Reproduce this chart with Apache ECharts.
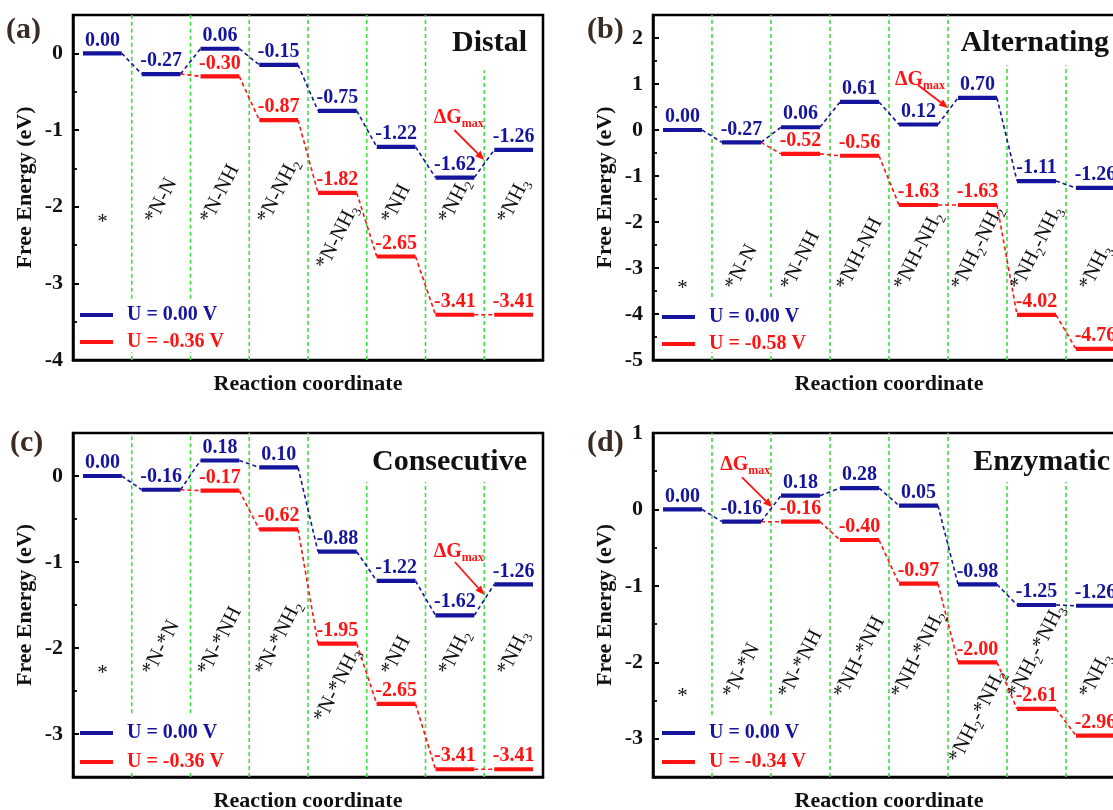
<!DOCTYPE html>
<html><head><meta charset="utf-8">
<script src="https://cdn.jsdelivr.net/npm/echarts@6/dist/echarts.min.js"></script>
<style>html,body{margin:0;padding:0;background:#fff}#c{width:1113px;height:810px}</style>
</head><body><div id="c"></div>
<script>
// ---------------- data ----------------
const panelLetters = ['(a)', '(b)', '(c)', '(d)'];
const panelTitles = ['Distal', 'Alternating', 'Consecutive', 'Enzymatic'];
const catA = ['*', '*N-N', '*N-NH', '*N-NH_2', '*N-NH_3', '*NH', '*NH_2', '*NH_3'];
const catB = ['*', '*N-N', '*N-NH', '*NH-NH', '*NH-NH_2', '*NH_2-NH_2', '*NH_2-NH_3', '*NH_3'];
const catC = ['*', '*N-*N', '*N-*NH', '*N-*NH_2', '*N-*NH_3', '*NH', '*NH_2', '*NH_3'];
const catD = ['*', '*N-*N', '*N-*NH', '*NH-*NH', '*NH-*NH_2', '*NH_2-*NH_2', '*NH_2-*NH_3', '*NH_3'];
const blueA = [0.00, -0.27, 0.06, -0.15, -0.75, -1.22, -1.62, -1.26];
const redA  = [null, null, -0.30, -0.87, -1.82, -2.65, -3.41, -3.41];
const blueB = [0.00, -0.27, 0.06, 0.61, 0.12, 0.70, -1.11, -1.26];
const redB  = [null, null, -0.52, -0.56, -1.63, -1.63, -4.02, -4.76];
const blueC = [0.00, -0.16, 0.18, 0.10, -0.88, -1.22, -1.62, -1.26];
const redC  = [null, null, -0.17, -0.62, -1.95, -2.65, -3.41, -3.41];
const blueD = [0.00, -0.16, 0.18, 0.28, 0.05, -0.98, -1.25, -1.26];
const redD  = [null, null, -0.16, -0.40, -0.97, -2.00, -2.61, -2.96];
const legendBlue = 'U = 0.00 V';
const legendRed = ['U = -0.36 V', 'U = -0.58 V', 'U = -0.36 V', 'U = -0.34 V'];
const yMin = [-4, -5, -3.5, -3.5];
const yMax = [0.5, 2.5, 0.5, 1];
const yAxisName = 'Free Energy (eV)';
const xAxisName = 'Reaction coordinate';
const dGText = 'ΔG';
const dGSub = 'max';

// ---------------- layout / style ----------------
const FONT = '"Liberation Serif", "Times New Roman", serif';
const BLUE = '#15159b', RED = '#ff1212', GREEN = '#3ede3e', DARK = '#3a2c22';
const L0 = 0.17, L1 = 0.83, ANG = 63;
const grids = [
  {left: 73, top: 15, width: 470, height: 345},
  {left: 653, top: 15, width: 472, height: 345},
  {left: 73, top: 433, width: 470, height: 344},
  {left: 653, top: 433, width: 472, height: 344}
];
const labelBase = [-2.2, -3.45, -2.3, -2.45];
const labelOverride = [{4: -2.8}, {}, {4: -2.85}, {5: -3.3}];
const dividerSpans = [
  [[1, -3.2, 0.5], [1, -4, -3.9], [2, -3.2, 0.5], [2, -4, -3.9], [3, -4, 0.5], [4, -4, 0.5], [5, -4, 0.5], [6, -4, 0.5], [7, -4, -0.22]],
  [[1, -3.63, 2.5], [1, -5, -4.83], [2, -3.63, 2.5], [2, -5, -4.83], [3, -5, 2.5], [4, -5, 2.5], [5, -5, 2.5], [6, -5, 1.41], [7, -5, 1.41]],
  [[1, -2.76, 0.5], [1, -3.5, -3.42], [2, -2.76, 0.5], [2, -3.5, -3.42], [3, -3.5, 0.5], [4, -3.5, 0.5], [5, -3.5, -0.07], [6, -3.5, -0.07], [7, -3.5, -0.07]],
  [[1, -2.69, 1], [1, -3.5, -3.4], [2, -2.69, 1], [2, -3.5, -3.4], [3, -3.5, 1], [4, -3.5, 1], [5, -3.5, 1], [6, -3.5, 0.36], [7, -3.5, 0.36]]
];
const dGPos = [
  [6.14, -0.84, 6.49, -1.0, 7.0, -1.39],
  [4.1, 1.09, 4.49, 0.98, 5.0, 0.48],
  [6.14, -0.88, 6.5, -1.0, 7.0, -1.38],
  [1.14, 0.58, 1.51, 0.42, 2.02, 0.03]
];
const legendPos = [
  {left: 80, top: 305, gap: 7},
  {left: 662, top: 307, gap: 7},
  {left: 80, top: 723, gap: 9},
  {left: 662, top: 723, gap: 9}
];
const letterPos = [[6, 30], [587, 30], [10, 443], [587, 443]];
const titlePos = [[527, 43], [1109, 43], [527, 462], [1110, 462]];

const cats = [catA, catB, catC, catD];
const blues = [blueA, blueB, blueC, blueD];
const reds = [redA, redB, redC, redD];

const CAT_FS = 21, SUB_FS = 13;
const CW = {'*': 0.5, 'N': 0.722, 'H': 0.722, '-': 0.333};
const RICH = {
  n: {fontSize: CAT_FS, fontFamily: FONT, fill: '#111', lineHeight: 26},
  s: {fontSize: SUB_FS, fontFamily: FONT, fill: '#111', lineHeight: 13, verticalAlign: 'bottom'}
};
function buildLabel(s) {
  const parts = s.split(/_(\d)/);
  let txt = '', L = 0;
  parts.forEach((p, k) => {
    if (!p) return;
    if (k % 2 === 1) { txt += '{s|' + p + '}'; L += 0.5 * SUB_FS; }
    else { txt += '{n|' + p + '}'; for (const ch of p) L += (CW[ch] || 0.5) * CAT_FS; }
  });
  return {txt, L};
}

function levelSeries(p, vals, base, color, name, z) {
  const data = [];
  vals.forEach((v, i) => { if (v !== null) data.push([i, v]); });
  return {
    type: 'custom', name, xAxisIndex: p, yAxisIndex: 2 * p, z,
    itemStyle: {color}, data, silent: true,
    renderItem(params, api) {
      const i = api.value(0), v = api.value(1);
      const a = api.coord([i + L0, v]), b = api.coord([i + L1, v]);
      const ch = [];
      let pv = i > 0 ? vals[i - 1] : null;
      if ((pv === null || pv === undefined) && base && i > 0) pv = base[i - 1];
      if (pv !== null && pv !== undefined) {
        const c = api.coord([i - 1 + L1, pv]);
        ch.push({type: 'line', shape: {x1: c[0], y1: c[1], x2: a[0], y2: a[1]},
          style: {stroke: color, lineWidth: 1.6, lineDash: [4, 3]}});
      }
      ch.push({type: 'line', shape: {x1: a[0], y1: a[1], x2: b[0], y2: b[1]},
        style: {stroke: color, lineWidth: 4.2}});
      ch.push({type: 'text', x: (a[0] + b[0]) / 2, y: a[1] - 3,
        style: {text: v.toFixed(2), fill: color, font: 'bold 20px ' + FONT, align: 'center', verticalAlign: 'bottom'}});
      return {type: 'group', children: ch};
    }
  };
}

const option = {animation: false, backgroundColor: '#fff', grid: [], xAxis: [], yAxis: [], series: [], legend: [], graphic: []};

for (let p = 0; p < 4; p++) {
  option.grid.push(Object.assign({show: true, borderColor: '#000', borderWidth: 2.5, backgroundColor: 'transparent', containLabel: false, outerBoundsMode: 'none'}, grids[p]));
  option.xAxis.push({
    gridIndex: p, type: 'value', min: 0, max: 8, position: 'bottom',
    axisLine: {show: true, onZero: false, lineStyle: {color: '#000', width: 2.5}},
    axisTick: {show: false}, axisLabel: {show: false}, splitLine: {show: false},
    name: xAxisName, nameLocation: 'middle', nameGap: 13,
    nameTextStyle: {fontFamily: FONT, fontWeight: 'bold', fontSize: 22, color: '#111'}
  });
  option.yAxis.push({
    gridIndex: p, type: 'value', min: yMin[p], max: yMax[p], splitNumber: p === 1 ? 8 : (p === 2 ? 4 : 5),
    position: 'left',
    axisLine: {show: true, onZero: false, lineStyle: {color: '#000', width: 2.5}},
    axisTick: {show: true, inside: true, length: 6, lineStyle: {color: '#000', width: 2}},
    axisLabel: {margin: 10, fontFamily: FONT, fontWeight: 'bold', fontSize: 22, color: '#111',
      formatter: v => (Math.abs(v - Math.round(v)) < 1e-9 ? String(Math.round(v)) : '')},
    splitLine: {show: false},
    name: yAxisName, nameLocation: 'middle', nameGap: 37, nameRotate: 90,
    nameTextStyle: {fontFamily: FONT, fontWeight: 'bold', fontSize: 22, color: '#111'}
  });
  option.yAxis.push({
    gridIndex: p, type: 'value', min: yMin[p], max: yMax[p], interval: 0.5, position: 'left', offset: 0,
    axisLine: {show: false, onZero: false}, axisLabel: {show: false}, splitLine: {show: false},
    axisTick: {show: true, inside: true, length: 4, lineStyle: {color: '#000', width: 1.8}}
  });

  // dividers
  option.series.push({
    type: 'custom', xAxisIndex: p, yAxisIndex: 2 * p, z: 1, silent: true,
    data: dividerSpans[p],
    renderItem(params, api) {
      const a = api.coord([api.value(0), api.value(1)]), b = api.coord([api.value(0), api.value(2)]);
      return {type: 'line', shape: {x1: a[0], y1: a[1], x2: b[0], y2: b[1]},
        style: {stroke: GREEN, lineWidth: 1.6, lineDash: [4, 3]}};
    }
  });
  option.series.push(levelSeries(p, reds[p], blues[p], RED, legendRed[p], 2));
  option.series.push(levelSeries(p, blues[p], null, BLUE, legendBlue, 3));

  // category labels
  const catData = cats[p].map((c, i) => [i, labelOverride[p][i] !== undefined ? labelOverride[p][i] : labelBase[p]]);
  option.series.push({
    type: 'custom', xAxisIndex: p, yAxisIndex: 2 * p, z: 4, silent: true, data: catData,
    renderItem(params, api) {
      const i = api.value(0), y0 = api.value(1);
      const s = cats[p][params.dataIndex];
      const pt = api.coord([i + 0.5, y0]);
      const lab = buildLabel(s);
      const th = ANG * Math.PI / 180;
      const single = s === '*';
      return {type: 'text', x: pt[0], y: single ? pt[1] : pt[1] - lab.L * Math.sin(th) / 2,
        rotation: single ? 0 : th,
        style: {text: lab.txt, rich: RICH, align: 'center', verticalAlign: 'middle'}};
    }
  });

  // ΔGmax annotation
  option.series.push({
    type: 'custom', xAxisIndex: p, yAxisIndex: 2 * p, z: 5, silent: true, data: [dGPos[p]],
    renderItem(params, api) {
      const t = api.coord([api.value(0), api.value(1)]);
      const a = api.coord([api.value(2), api.value(3)]);
      const b = api.coord([api.value(4), api.value(5)]);
      const dx = b[0] - a[0], dy = b[1] - a[1], len = Math.hypot(dx, dy), ux = dx / len, uy = dy / len;
      const hl = 9, hw = 3.8;
      const bs = [b[0] - ux * hl, b[1] - uy * hl];
      return {type: 'group', children: [
        {type: 'text', x: t[0], y: t[1], style: {
          text: '{d|' + dGText + '}{m|' + dGSub + '}', align: 'left', verticalAlign: 'middle',
          rich: {d: {fontSize: 20, fontWeight: 'bold', fontFamily: FONT, fill: RED, lineHeight: 24},
                 m: {fontSize: 12, fontWeight: 'bold', fontFamily: FONT, fill: RED, lineHeight: 12, verticalAlign: 'bottom'}}}},
        {type: 'line', shape: {x1: a[0], y1: a[1], x2: bs[0], y2: bs[1]}, style: {stroke: RED, lineWidth: 1.8}},
        {type: 'polygon', shape: {points: [b, [bs[0] - uy * hw, bs[1] + ux * hw], [bs[0] + uy * hw, bs[1] - ux * hw]]},
          style: {fill: RED}}
      ]};
    }
  });

  option.legend.push({
    left: legendPos[p].left, top: legendPos[p].top, orient: 'vertical', padding: 0,
    itemWidth: 33, itemHeight: 4, itemGap: legendPos[p].gap, icon: 'rect', selectedMode: false,
    textStyle: {fontFamily: FONT, fontWeight: 'bold', fontSize: 20, lineHeight: 20, padding: [0, 0, 0, 9]},
    data: [{name: legendBlue, itemStyle: {color: BLUE}, textStyle: {color: BLUE}},
           {name: legendRed[p], itemStyle: {color: RED}, textStyle: {color: RED}}]
  });

  option.graphic.push({type: 'text', x: letterPos[p][0], y: letterPos[p][1], z: 10,
    style: {text: panelLetters[p], font: 'bold 30px ' + FONT, fill: DARK, align: 'left', verticalAlign: 'middle'}});
  option.graphic.push({type: 'text', x: titlePos[p][0], y: titlePos[p][1], z: 10,
    style: {text: panelTitles[p], font: 'bold 30px ' + FONT, fill: '#111', align: 'right', verticalAlign: 'middle'}});
}

const chart = echarts.init(document.getElementById('c'), null, {renderer: 'canvas'});
chart.setOption(option);
</script>
</body></html>
